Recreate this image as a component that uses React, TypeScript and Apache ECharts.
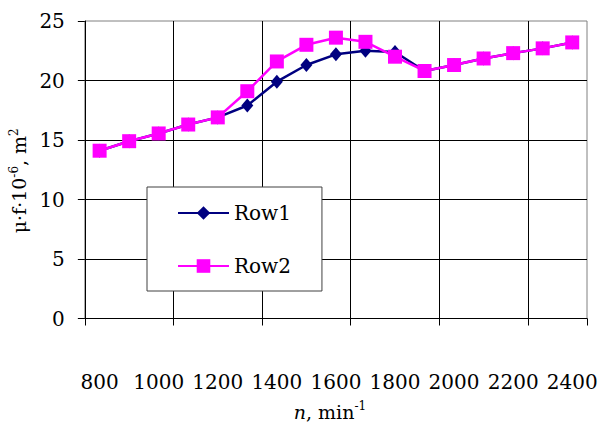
import React, { useEffect, useRef } from 'react';
import * as echarts from 'echarts';

const categories = ['800', '900', '1000', '1100', '1200', '1300', '1400', '1500', '1600', '1700', '1800', '1900', '2000', '2100', '2200', '2300', '2400'];
const row1 = [14.1, 14.9, 15.55, 16.3, 16.9, 17.9, 19.9, 21.3, 22.2, 22.5, 22.4, 20.8, 21.3, 21.85, 22.3, 22.7, 23.2];
const row2 = [14.1, 14.9, 15.55, 16.3, 16.9, 19.1, 21.6, 23.0, 23.6, 23.25, 22.0, 20.8, 21.3, 21.85, 22.3, 22.7, 23.2];
const seriesNames = ['Row1', 'Row2'];
const yTicks = { min: 0, max: 25, interval: 5 };

const FONT = 'DejaVu Serif';

export default function App() {
  const ref = useRef<HTMLDivElement>(null);
  useEffect(() => {
    if (!ref.current) return;
    const chart = echarts.init(ref.current, null, { renderer: 'svg' });
    chart.setOption({
      animation: false,
      backgroundColor: '#fff',
      textStyle: { fontFamily: FONT },
      grid: {
        left: 79, right: 14, top: 21, bottom: 101,
        show: true, borderColor: '#808080', borderWidth: 1, backgroundColor: 'transparent',
      },
      legend: {
        data: seriesNames,
        orient: 'vertical',
        left: 147, top: 187,
        padding: [16, 31, 15, 30],
        itemGap: 33,
        itemWidth: 51, itemHeight: 17,
        backgroundColor: '#fff',
        borderColor: '#404040', borderWidth: 1, borderRadius: 0,
        textStyle: { fontSize: 20, color: '#000', fontFamily: FONT },
      },
      xAxis: {
        type: 'category',
        data: categories,
        boundaryGap: true,
        axisLine: { show: true, lineStyle: { color: '#000', width: 1 } },
        axisTick: { show: true, interval: 2, length: 7, lineStyle: { color: '#000' } },
        splitLine: { show: true, interval: 2, showMinLine: false, showMaxLine: false, lineStyle: { color: '#000', width: 1 } },
        axisLabel: { interval: 1, margin: 63, verticalAlign: 'middle', fontSize: 20, color: '#000', fontFamily: FONT },
        name: '{i|n}{r|, min}{s|-1}',
        nameLocation: 'middle',
        nameGap: 81,
        nameTextStyle: {
          color: '#000', fontFamily: FONT,
          padding: [0, 12, 0, 0],
          rich: {
            i: { fontSize: 19, fontStyle: 'italic', fontFamily: FONT, color: '#000', lineHeight: 24 },
            r: { fontSize: 19, fontFamily: FONT, color: '#000', lineHeight: 24 },
            s: { fontSize: 12, fontFamily: FONT, color: '#000', lineHeight: 14, verticalAlign: 'top' },
          },
        },
      },
      yAxis: {
        type: 'value',
        min: yTicks.min, max: yTicks.max, interval: yTicks.interval,
        axisLine: { show: true, lineStyle: { color: '#000', width: 1 } },
        axisTick: { show: true, length: 7, lineStyle: { color: '#000' } },
        splitLine: { show: true, showMaxLine: false, lineStyle: { color: '#000', width: 1 } },
        axisLabel: { margin: 20, fontSize: 20, color: '#000', fontFamily: FONT },
        name: '{r|μ·f·10}{s|-6}{r|, m}{s|2}',
        nameLocation: 'middle',
        nameGap: 50,
        nameRotate: 90,
        nameTextStyle: {
          color: '#000', fontFamily: FONT,
          padding: [0, 22, 0, 0],
          rich: {
            r: { fontSize: 19, fontFamily: FONT, color: '#000', lineHeight: 22 },
            s: { fontSize: 12, fontFamily: FONT, color: '#000', lineHeight: 14, verticalAlign: 'top' },
          },
        },
      },
      graphic: [
        { type: 'rect', shape: { x: 585, y: 326, width: 6, height: 9 }, style: { fill: '#fff' }, z: 10 },
      ],
      series: [
        {
          name: seriesNames[0], type: 'line', data: row1,
          symbol: 'diamond', symbolSize: [12, 14],
          itemStyle: { color: '#000080' },
          lineStyle: { color: '#000080', width: 2.5 },
          z: 2,
        },
        {
          name: seriesNames[1], type: 'line', data: row2,
          symbol: 'rect', symbolSize: 14,
          itemStyle: { color: '#FF00FF' },
          lineStyle: { color: '#FF00FF', width: 2.5 },
          z: 3,
        },
      ],
    });
    return () => chart.dispose();
  }, []);
  return <div ref={ref} style={{ position: 'fixed', left: 0, top: 0, width: 601, height: 426 }} />;
}
